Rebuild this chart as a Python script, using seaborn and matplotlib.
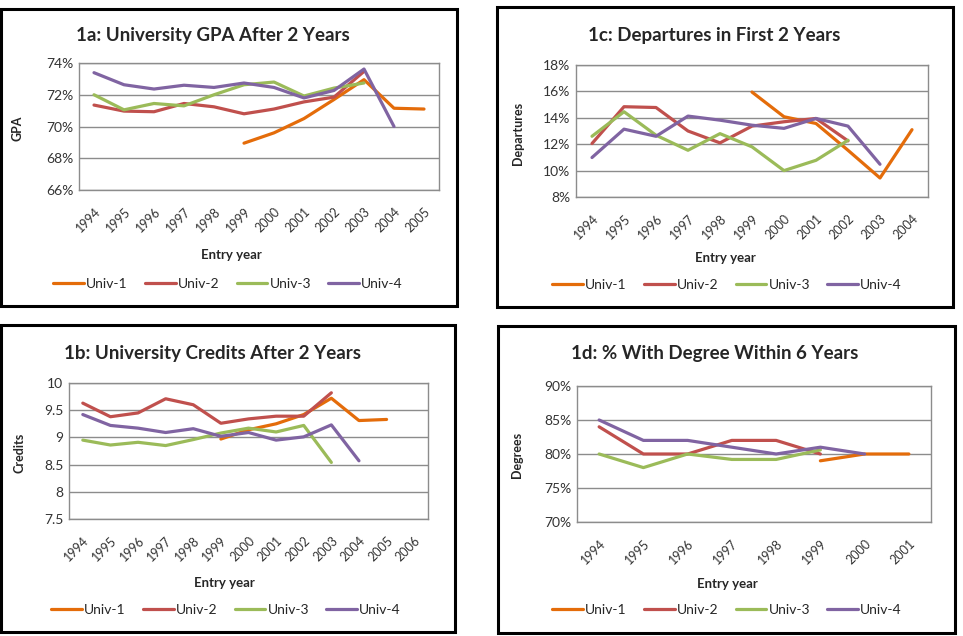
import numpy as np
import pandas as pd
import matplotlib
matplotlib.use('Agg')
import matplotlib.pyplot as plt
import seaborn as sns
from matplotlib.patches import Rectangle
from matplotlib.ticker import PercentFormatter, FuncFormatter

# ---- data ----
unis = ["Univ-1", "Univ-2", "Univ-3", "Univ-4"]
colors = ["#E46C0A", "#C0504D", "#9BBB59", "#8064A2"]

# 1a: GPA after 2 years (%), entry years 1994-2005
years_a = list(range(1994, 2006))
gpa_u1 = [None, None, None, None, None, 68.95, 69.6, 70.5, 71.7, 72.95, 71.15, 71.1]
gpa_u2 = [71.35, 70.97, 70.93, 71.45, 71.24, 70.8, 71.1, 71.55, 71.85, 73.47, None, None]
gpa_u3 = [72.0, 71.05, 71.45, 71.3, 72.0, 72.63, 72.8, 71.92, 72.42, 72.74, None, None]
gpa_u4 = [73.39, 72.63, 72.36, 72.6, 72.46, 72.74, 72.46, 71.8, 72.27, 73.62, 70.0, None]

# 1b: credits after 2 years, entry years 1994-2006
years_b = list(range(1994, 2007))
cred_u1 = [None, None, None, None, None, 8.97, 9.14, 9.25, 9.42, 9.72, 9.31, 9.33, None]
cred_u2 = [9.63, 9.38, 9.45, 9.71, 9.6, 9.26, 9.34, 9.39, 9.39, 9.82, None, None, None]
cred_u3 = [8.95, 8.86, 8.91, 8.85, 8.96, 9.08, 9.17, 9.1, 9.22, 8.54, None, None, None]
cred_u4 = [9.42, 9.22, 9.17, 9.09, 9.16, 9.02, 9.09, 8.95, 9.01, 9.23, 8.57, None, None]

# 1c: departures in first 2 years (%), entry years 1994-2004
years_c = list(range(1994, 2005))
dep_u1 = [None, None, None, None, None, 15.95, 14.08, 13.57, 11.54, 9.44, 13.1]
dep_u2 = [12.05, 14.84, 14.78, 13.0, 12.1, 13.37, 13.7, 13.95, 12.25, None, None]
dep_u3 = [12.6, 14.46, 12.68, 11.54, 12.8, 11.8, 10.0, 10.78, 12.3, None, None]
dep_u4 = [10.99, 13.14, 12.6, 14.13, 13.82, 13.44, 13.2, 13.95, 13.37, 10.48, None]

# 1d: % with degree within 6 years, entry years 1994-2001
years_d = list(range(1994, 2002))
deg_u1 = [None, None, None, None, None, 79.0, 80.0, 80.0]
deg_u2 = [84.0, 80.0, 80.0, 82.0, 82.0, 80.0, None, None]
deg_u3 = [80.0, 78.0, 80.0, 79.2, 79.2, 80.6, None, None]
deg_u4 = [85.0, 82.0, 82.0, 81.0, 80.0, 81.0, 80.0, None]


def to_long(years, series):
    rows = []
    for name, vals in zip(unis, series):
        for yr, v in zip(years, vals):
            if v is not None:
                rows.append({"year": yr, "value": v, "uni": name})
    return pd.DataFrame(rows)


sns.set_style("white")
plt.rcParams['font.family'] = ['Lato', 'DejaVu Sans']

fig = plt.figure(figsize=(9.63, 6.36), dpi=100)
W, H = 963.0, 636.0


def px_axes(l, t, r, b):
    return fig.add_axes([l / W, 1 - b / H, (r - l) / W, (b - t) / H])


def ftext(x, y, s, **kw):
    fig.text(x / W, 1 - y / H, s, **kw)


panels = [
    # box, axes, title, title pos, ylabel, ylabel pos, xlabel pos, legend pos
    dict(box=(1, 9, 457, 306), ax=(79, 63, 439, 190), title="1a: University GPA After 2 Years",
         tpos=(213, 36), ylab="GPA", ypos=(18, 128), xpos=(231, 255), lpos=(228, 284),
         years=years_a, series=[gpa_u1, gpa_u2, gpa_u3, gpa_u4], ylim=(66, 74), step=2, pct=True),
    dict(box=(497, 7, 953, 307), ax=(576, 65, 928, 197), title="1c: Departures in First 2 Years",
         tpos=(714, 35), ylab="Departures", ypos=(518, 133), xpos=(725, 258), lpos=(727, 285),
         years=years_c, series=[dep_u1, dep_u2, dep_u3, dep_u4], ylim=(8, 18), step=2, pct=True),
    dict(box=(1, 325, 455, 632), ax=(69, 383, 428, 519), title="1b: University Credits After 2 Years",
         tpos=(212, 353), ylab="Credits", ypos=(19, 453), xpos=(224, 583), lpos=(226, 610),
         years=years_b, series=[cred_u1, cred_u2, cred_u3, cred_u4], ylim=(7.5, 10), step=0.5, pct=False),
    dict(box=(498, 326, 955, 633), ax=(577, 386, 931, 522), title="1d: % With Degree Within 6 Years",
         tpos=(715, 353), ylab="Degrees", ypos=(517, 455), xpos=(727, 584), lpos=(727, 610),
         years=years_d, series=[deg_u1, deg_u2, deg_u3, deg_u4], ylim=(70, 90), step=5, pct=True),
]

for p in panels:
    bl, bt, br, bb = p["box"]
    fig.patches.append(Rectangle((bl / W, 1 - bb / H), (br - bl) / W, (bb - bt) / H,
                                 transform=fig.transFigure, fill=False,
                                 edgecolor='black', linewidth=2.2))
    ax = px_axes(*p["ax"])
    df = to_long(p["years"], p["series"])
    sns.lineplot(data=df, x="year", y="value", hue="uni", hue_order=unis,
                 palette=colors, linewidth=2.3, ax=ax, legend=False)
    yrs = p["years"]
    ax.set_xlim(yrs[0] - 0.5, yrs[-1] + 0.5)
    ax.set_xticks(yrs)
    ax.set_xticklabels([str(y) for y in yrs], rotation=45, ha='right',
                       rotation_mode='anchor', fontsize=9, color='#333333')
    lo, hi = p["ylim"]
    ax.set_ylim(lo, hi)
    ax.set_yticks(np.arange(lo, hi + p["step"] / 2, p["step"]))
    if p["pct"]:
        ax.yaxis.set_major_formatter(PercentFormatter(decimals=0))
    else:
        ax.yaxis.set_major_formatter(FuncFormatter(lambda v, pos: f"{v:g}"))
    ax.tick_params(axis='y', labelsize=10, length=0, pad=4, labelcolor='#333333')
    ax.tick_params(axis='x', length=0, pad=11)
    ax.grid(axis='y', color='#8c8c8c', linewidth=1.0)
    ax.set_axisbelow(True)
    for s in ax.spines.values():
        s.set_color('#8c8c8c')
        s.set_linewidth(1.0)
    ax.set_xlabel("")
    ax.set_ylabel("")

    ftext(*p["tpos"], p["title"], ha='center', va='center', fontsize=13.5, fontweight='bold')
    ftext(*p["ypos"], p["ylab"], ha='center', va='center', rotation=90, fontsize=9, fontweight='bold')
    ftext(*p["xpos"], "Entry year", ha='center', va='center', fontsize=9.5, fontweight='bold')

    handles = [plt.Line2D([], [], color=c, linewidth=2.3) for c in colors]
    lx, ly = p["lpos"]
    fig.legend(handles, unis, loc='center', bbox_to_anchor=(lx / W, 1 - ly / H), ncol=4,
               frameon=False, fontsize=10, handlelength=2.2, handletextpad=0.15,
               columnspacing=1.25)

fig.savefig("out.png", dpi=100)
